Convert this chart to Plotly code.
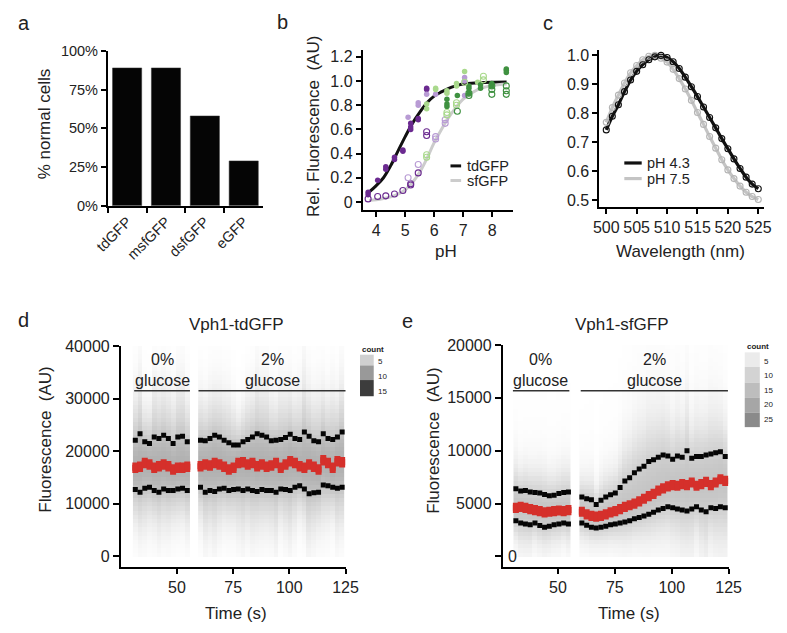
import math
import plotly.graph_objects as go

W, H = 787, 633
FONT = "Arial, Liberation Sans, Helvetica, sans-serif"
TXT = "#222222"


def px(x):
    return x / W


def py(y):
    return 1 - y / H


# ---------------- data: panel a ----------------
a_labels = ["tdGFP", "msfGFP", "dsfGFP", "eGFP"]
a_values = [89, 89, 58, 29]

# ---------------- data: panel b ----------------
# tdGFP (filled markers)
td_dp_ph = [3.72, 3.72, 4.05, 4.33, 4.33, 4.63, 4.63, 4.92, 4.92, 5.19, 5.19, 5.19, 5.45, 5.45, 5.74, 5.74]
td_dp_val = [0.08, 0.06, 0.18, 0.27, 0.29, 0.35, 0.37, 0.43, 0.42, 0.60, 0.65, 0.62, 0.69, 0.68, 0.94, 0.93]
td_lp_ph = [5.10, 5.45, 5.45, 5.74, 6.05, 7.05, 7.05, 7.05]
td_lp_val = [0.70, 0.82, 0.80, 0.89, 0.89, 1.03, 1.00, 0.88]
td_lg_ph = [5.74, 5.74, 6.05, 6.05, 6.44, 6.44, 6.77, 6.77, 7.05, 7.50]
td_lg_val = [0.81, 0.77, 0.93, 0.94, 0.92, 0.90, 0.96, 0.98, 1.08, 0.99]
td_dg_ph = [6.44, 6.44, 6.44, 6.80, 7.20, 7.20, 7.20, 7.60, 7.60, 7.99, 7.99, 8.49, 8.49, 8.49]
td_dg_val = [0.85, 0.81, 0.79, 0.88, 0.90, 0.94, 0.96, 0.94, 0.97, 0.96, 0.98, 1.09, 1.10, 1.07]
# sfGFP (open markers)
sf_dp_ph = [3.72, 4.05, 4.33, 4.63, 4.92, 5.19, 5.19, 5.45, 5.74, 5.74]
sf_dp_val = [0.025, 0.045, 0.05, 0.065, 0.095, 0.14, 0.15, 0.24, 0.55, 0.58]
sf_lp_ph = [5.10, 5.45, 6.05, 6.05, 6.38, 6.38]
sf_lp_val = [0.20, 0.31, 0.54, 0.52, 0.68, 0.65]
sf_lg_ph = [5.74, 5.74, 6.44, 6.44, 6.77, 6.77, 7.05, 7.70, 7.70]
sf_lg_val = [0.37, 0.39, 0.72, 0.74, 0.80, 0.82, 0.99, 1.04, 1.01]
sf_dg_ph = [6.80, 7.20, 7.20, 7.99, 7.99, 7.99, 8.49, 8.49, 8.49]
sf_dg_val = [0.75, 0.88, 0.90, 0.93, 0.96, 0.89, 0.96, 0.92, 0.89]
# fitted curves
fit_ph = [3.75, 4.0, 4.25, 4.5, 4.75, 5.0, 5.25, 5.5, 5.75, 6.0, 6.25, 6.5, 6.75, 7.0, 7.5, 8.0, 8.5]
fit_td = [0.08, 0.135, 0.2, 0.3, 0.42, 0.54, 0.65, 0.74, 0.82, 0.875, 0.91, 0.94, 0.96, 0.975, 0.985, 0.99, 0.992]
fit_sf = [0.012, 0.018, 0.028, 0.042, 0.065, 0.1, 0.16, 0.245, 0.36, 0.49, 0.6, 0.7, 0.78, 0.85, 0.93, 0.962, 0.975]

# ---------------- data: panel c ----------------
wl = list(range(500, 526))
em_ph43 = [0.743, 0.79, 0.83, 0.875, 0.915, 0.945, 0.968, 0.985, 0.995, 1.0, 0.993, 0.978, 0.955,
           0.925, 0.892, 0.858, 0.822, 0.786, 0.75, 0.713, 0.678, 0.643, 0.61, 0.58, 0.556, 0.54]
em_ph75 = [0.769, 0.82, 0.863, 0.905, 0.94, 0.965, 0.985, 0.997, 1.0, 0.99, 0.977, 0.952, 0.92,
           0.884, 0.845, 0.803, 0.762, 0.72, 0.68, 0.64, 0.605, 0.575, 0.549, 0.528, 0.513, 0.503]

# ---------------- data: panels d / e ----------------
t0 = [31.5, 33.6, 35.7, 37.8, 39.9, 42.0, 44.1, 46.2, 48.3, 50.4, 52.5, 54.6]
t2 = [60.5, 62.6, 64.7, 66.8, 68.9, 71.0, 73.1, 75.2, 77.3, 79.4, 81.5, 83.6, 85.7, 87.8, 89.9, 92.0,
      94.1, 96.2, 98.3, 100.4, 102.5, 104.6, 106.7, 108.8, 110.9, 113.0, 115.1, 117.2, 119.3, 121.4, 123.5]

d_up0 = [22100, 23334, 21790, 21482, 22717, 22408, 23026, 22408, 21482, 22717, 22840, 21790]
d_med0 = [16852, 17038, 17778, 17470, 16852, 17161, 17470, 17161, 16544, 16852, 16852, 17038]
d_lo0 = [12717, 12223, 12963, 13149, 12531, 12223, 12840, 12531, 12531, 12840, 12963, 12531]
d_up2 = [22100, 21976, 22408, 23026, 22717, 22100, 21605, 21173, 21173, 21790, 22223, 22717, 23334, 23026,
         22717, 21976, 22100, 22223, 22593, 23211, 22408, 22223, 23643, 22840, 21976, 21790, 23334, 22408,
         22223, 22717, 23643]
d_med2 = [17161, 17470, 17285, 17778, 17470, 17038, 16544, 16852, 17778, 17902, 17470, 17778, 17161, 17470,
          17038, 17285, 17778, 16852, 17470, 18087, 17778, 17161, 16852, 17470, 17038, 16544, 18272, 17778,
          16852, 18087, 17902]
d_lo2 = [13149, 12223, 12531, 12346, 12840, 12963, 12531, 12717, 12840, 12531, 12840, 12531, 12346, 12717,
         12531, 12531, 12223, 12840, 12717, 12531, 13149, 13457, 12840, 11914, 12099, 12223, 13581, 13457,
         13149, 12963, 13149]

e_up0 = [6400, 6200, 6250, 6100, 6050, 6000, 5850, 5750, 5800, 5950, 6050, 6100]
e_med0 = [4600, 4690, 4600, 4480, 4390, 4290, 4170, 4230, 4290, 4350, 4290, 4390]
e_lo0 = [3370, 3160, 3070, 3000, 3160, 2940, 2760, 2850, 3000, 3070, 3160, 3070]
e_up2 = [5613, 5459, 5367, 4907, 5306, 5613, 5827, 6011, 6533, 7146, 7453, 7913, 8281, 8526, 8986, 9140,
         9385, 9600, 9508, 9201, 9508, 9385, 9998, 9293, 9446, 9446, 9600, 9692, 9814, 9906, 9446]
e_med2 = [4232, 3987, 3834, 3772, 3834, 3987, 4171, 4294, 4478, 4693, 4846, 4999, 5214, 5459, 5705, 5919,
          6226, 6441, 6625, 6747, 6686, 6839, 6747, 6993, 6686, 6839, 7054, 6747, 6993, 7299, 7146]
e_lo2 = [3159, 2944, 2760, 2699, 2760, 2852, 3006, 3067, 3159, 3251, 3374, 3558, 3680, 3834, 3987, 4171,
         4386, 4540, 4693, 4601, 4478, 4386, 4294, 4478, 4693, 4386, 4232, 4601, 4540, 4693, 4601]

# colours
C_DP, C_LP, C_LG, C_DG = "#6b2a90", "#b89bd4", "#a9d98c", "#3f9140"
C_RED = "#d5302b"

fig = go.Figure()

# ---------------- panel a ----------------
fig.add_trace(go.Bar(x=a_labels, y=a_values, marker=dict(color="#050505", line=dict(color="#333", width=0.5)),
                     width=0.75, xaxis="x", yaxis="y", showlegend=False))

# ---------------- panel b ----------------
fig.add_trace(go.Scatter(x=fit_ph, y=fit_td, mode="lines", line=dict(color="#111", width=3, shape="spline"),
                         xaxis="x2", yaxis="y2", showlegend=False))
fig.add_trace(go.Scatter(x=fit_ph, y=fit_sf, mode="lines", line=dict(color="#cccccc", width=3, shape="spline"),
                         xaxis="x2", yaxis="y2", showlegend=False))
for xs, ys, col in [(td_dp_ph, td_dp_val, C_DP), (td_lp_ph, td_lp_val, C_LP),
                    (td_lg_ph, td_lg_val, C_LG), (td_dg_ph, td_dg_val, C_DG)]:
    fig.add_trace(go.Scatter(x=xs, y=ys, mode="markers", marker=dict(color=col, size=5.5, line=dict(width=0)),
                             xaxis="x2", yaxis="y2", showlegend=False))
for xs, ys, col in [(sf_dp_ph, sf_dp_val, C_DP), (sf_lp_ph, sf_lp_val, C_LP),
                    (sf_lg_ph, sf_lg_val, C_LG), (sf_dg_ph, sf_dg_val, C_DG)]:
    fig.add_trace(go.Scatter(x=xs, y=ys, mode="markers",
                             marker=dict(symbol="circle-open", color=col, size=6, line=dict(width=1.1, color=col)),
                             xaxis="x2", yaxis="y2", showlegend=False))

# ---------------- panel c ----------------
fig.add_trace(go.Scatter(x=wl, y=em_ph75, mode="lines", line=dict(color="#c4c4c4", width=3.2, shape="spline"),
                         xaxis="x3", yaxis="y3", showlegend=False))
fig.add_trace(go.Scatter(x=wl, y=em_ph43, mode="lines", line=dict(color="#111", width=3.2, shape="spline"),
                         xaxis="x3", yaxis="y3", showlegend=False))
fig.add_trace(go.Scatter(x=wl, y=em_ph75, mode="markers",
                         marker=dict(symbol="circle-open", size=6, color="#b5b5b5", line=dict(width=1.1, color="#b5b5b5")),
                         xaxis="x3", yaxis="y3", showlegend=False))
fig.add_trace(go.Scatter(x=wl, y=em_ph43, mode="markers",
                         marker=dict(symbol="circle-open", size=6, color="#111", line=dict(width=1.1, color="#111")),
                         xaxis="x3", yaxis="y3", showlegend=False))


# ---------------- panels d / e: density background derived from the quantile data ----------------
def density(med, up, lo, ybins, peak, halo, hw):
    z = []
    for yv in ybins:
        row = []
        for m, u, l in zip(med, up, lo):
            s = (u - m) / 0.674 if yv >= m else (m - l) / 0.674
            row.append(peak * math.exp(-0.5 * ((yv - m) / s) ** 2) + halo * math.exp(-0.5 * ((yv - m) / (hw * s)) ** 2))
        z.append(row)
    return z


d_ybins = [400 + 800 * i for i in range(50)]
e_ybins = [200 + 400 * i for i in range(50)]
d_cs = [[0, "#ffffff"], [5 / 17, "#d3d3d3"], [10 / 17, "#999999"], [15 / 17, "#3c3c3c"], [1, "#2a2a2a"]]
e_cs = [[0, "#ffffff"], [5 / 27, "#ebebeb"], [10 / 27, "#d3d3d3"], [15 / 27, "#bdbdbd"], [20 / 27, "#a6a6a6"],
        [25 / 27, "#8a8a8a"], [1, "#7a7a7a"]]

for tt, med, up, lo in [(t0, d_med0, d_up0, d_lo0), (t2, d_med2, d_up2, d_lo2)]:
    fig.add_trace(go.Heatmap(x=tt, y=d_ybins, z=density(med, up, lo, d_ybins, 7.5, 0.5, 1.6), colorscale=d_cs,
                             zmin=0, zmax=17, showscale=False, xaxis="x4", yaxis="y4", hoverinfo="skip"))
for tt, med, up, lo in [(t0, e_med0, e_up0, e_lo0), (t2, e_med2, e_up2, e_lo2)]:
    fig.add_trace(go.Heatmap(x=tt, y=e_ybins, z=density(med, up, lo, e_ybins, 12.0, 1.3, 2.2), colorscale=e_cs,
                             zmin=0, zmax=27, showscale=False, xaxis="x5", yaxis="y5", hoverinfo="skip"))

for axn, half, sets in [("4", 1000, [(t0, d_up0, d_med0, d_lo0), (t2, d_up2, d_med2, d_lo2)]),
                        ("5", 480, [(t0, e_up0, e_med0, e_lo0), (t2, e_up2, e_med2, e_lo2)])]:
    for tt, up, med, lo in sets:
        for ys in (up, lo):
            fig.add_trace(go.Scatter(x=tt, y=ys, mode="markers",
                                     marker=dict(symbol="square", size=5, color="#050505", line=dict(width=0)),
                                     xaxis="x" + axn, yaxis="y" + axn, showlegend=False))
        fig.add_trace(go.Scatter(x=tt, y=med, mode="markers",
                                 marker=dict(symbol="square", size=6, color=C_RED, line=dict(width=0)),
                                 error_y=dict(type="constant", value=half, color=C_RED, thickness=6, width=0),
                                 xaxis="x" + axn, yaxis="y" + axn, showlegend=False))


# ---------------- axes ----------------
def ax(**kw):
    d = dict(showline=True, linecolor="black", linewidth=1.6, ticks="outside", ticklen=5, tickwidth=1.5,
             tickcolor="black", showgrid=False, zeroline=False,
             tickfont=dict(family=FONT, size=16, color=TXT), fixedrange=True)
    d.update(kw)
    return d


layout = dict(
    width=W, height=H, margin=dict(l=0, r=0, t=0, b=0), paper_bgcolor="white", plot_bgcolor="rgba(0,0,0,0)",
    showlegend=False, font=dict(family=FONT, color=TXT),
    xaxis=ax(domain=[px(97), px(258)], anchor="y", range=[-0.5, 3.5], tickson="boundaries", tickangle=-45,
             tickfont=dict(family=FONT, size=14.5, color=TXT)),
    yaxis=ax(domain=[py(203), py(44)], anchor="x", range=[0, 100], tickvals=[0, 25, 50, 75, 100],
             ticktext=["0%", "25%", "50%", "75%", "100%"], tickfont=dict(family=FONT, size=14.5, color=TXT)),
    xaxis2=ax(domain=[px(361), px(517)], anchor="y2", range=[3.53, 8.73], tickvals=[4, 5, 6, 7, 8]),
    yaxis2=ax(domain=[py(207), py(42.7)], anchor="x2", range=[-0.065, 1.26],
              tickvals=[0, 0.2, 0.4, 0.6, 0.8, 1.0, 1.2], ticktext=["0", "0.2", "0.4", "0.6", "0.8", "1.0", "1.2"]),
    xaxis3=ax(domain=[px(606), px(776.7)], anchor="y3", range=[498.84, 525.95], tickvals=[500, 505, 510, 515, 520, 525]),
    yaxis3=ax(domain=[py(204), py(43)], anchor="x3", range=[0.4775, 1.019],
              tickvals=[0.5, 0.6, 0.7, 0.8, 0.9, 1.0], ticktext=["0.5", "0.6", "0.7", "0.8", "0.9", "1.0"]),
    xaxis4=ax(domain=[px(110.5), px(344)], anchor="y4", range=[25, 125.3], tickvals=[50, 75, 100, 125]),
    yaxis4=ax(domain=[py(574), py(346.7)], anchor="x4", range=[-2093, 40000],
              tickvals=[0, 10000, 20000, 30000, 40000], ticktext=["0", "10000", "20000", "30000", "40000"], ticklen=6),
    xaxis5=ax(domain=[px(506), px(740)], anchor="y5", range=[25.68, 125], tickvals=[50, 75, 100, 125]),
    yaxis5=ax(domain=[py(574), py(345.7)], anchor="x5", range=[-1041, 20000],
              tickvals=[0, 5000, 10000, 15000, 20000], ticktext=["", "5000", "10000", "15000", "20000"], ticklen=6),
)

ann = []
shapes = []


def text(x, y, s, size=17, angle=0, xref="paper", yref="paper", xanchor="center", yanchor="middle", bold=False,
         color=TXT):
    if bold:
        s = "<b>" + s + "</b>"
    ann.append(dict(x=x, y=y, xref=xref, yref=yref, text=s, showarrow=False, textangle=angle,
                    xanchor=xanchor, yanchor=yanchor, font=dict(family=FONT, size=size, color=color)))


# panel letters
for lt, x, y in [("a", 10, 15), ("b", 278, 14), ("c", 553, 15), ("d", 10, 320), ("e", 407, 321)]:
    text(px(x), py(y), lt, size=20)

# axis titles
text(px(31.7), py(118.7), "% normal cells", angle=-90)
text(px(310), py(121.7), "Rel. Fluorescence  (AU)", angle=-90)
text(px(447), py(250), "pH")
text(px(690), py(250), "Wavelength (nm)")
text(px(33), py(443), "Fluorescence  (AU)", angle=-90)
text(px(230), py(621.7), "Time (s)")
text(px(435), py(444), "Fluorescence  (AU)", angle=-90)
text(px(636.7), py(621.7), "Time (s)")
text(px(230), py(325), "Vph1-tdGFP", size=17)
text(px(630), py(325), "Vph1-sfGFP", size=17)

# legend of panel b
for lbl, col, y in [("tdGFP", "#111", 162), ("sfGFP", "#cccccc", 177)]:
    shapes.append(dict(type="line", xref="paper", yref="paper", x0=px(452), x1=px(463), y0=py(y), y1=py(y),
                       line=dict(color=col, width=3)))
    text(px(467), py(y), lbl, size=14.5, xanchor="left")
# legend of panel c
for lbl, col, y in [("pH 4.3", "#111", 159), ("pH 7.5", "#c4c4c4", 175)]:
    shapes.append(dict(type="line", xref="paper", yref="paper", x0=px(632), x1=px(650), y0=py(y), y1=py(y),
                       line=dict(color=col, width=3.2)))
    text(px(653), py(y), lbl, size=14.5, xanchor="left")

# glucose annotations
for xa, ya, segs, ylin, ytxt in [("x4", "y4", [(31, 55.8, 43.4, "0%"), (59.6, 125, 92.3, "2%")], 31500, 35500),
                                 ("x5", "y5", [(30.2, 55.0, 42.3, "0%"), (60.0, 124.7, 92.5, "2%")], 15668, 17670)]:
    for x0, x1, xc, lab in segs:
        shapes.append(dict(type="line", xref=xa, yref=ya, x0=x0, x1=x1, y0=ylin, y1=ylin,
                           line=dict(color="#333", width=1.6)))
        text(xc, ytxt, lab + "<br>glucose", size=16, xref=xa, yref=ya)

# lone "0" label of panel e
text(29.9, 0, "0", size=16, xref="x5", yref="y5")

# count legends
for x0, x1, blocks, labels, ytop in [
        (358.3, 372.5, [(355.7, 366.7, "#d0d0d0"), (366.7, 381.7, "#999999"), (381.7, 398.3, "#3c3c3c")],
         [("5", 363), ("10", 378), ("15", 393)], 350),
        (756.7, 772.3, [(353.3, 368.3, "#ebebeb"), (368.3, 384.3, "#d3d3d3"), (384.3, 400, "#bdbdbd"),
                        (400, 415, "#a6a6a6"), (415, 430, "#8a8a8a")],
         [("5", 362.3), ("10", 377.3), ("15", 392.3), ("20", 407), ("25", 422)], 347.7)]:
    for y0, y1, col in blocks:
        shapes.append(dict(type="rect", xref="paper", yref="paper", x0=px(x0), x1=px(x1), y0=py(y1), y1=py(y0),
                           fillcolor=col, line=dict(width=0)))
    text(px(x0), py(ytop), "count", size=8, bold=True, xanchor="left")
    for lab, yy in labels:
        text(px(x1 + 2), py(yy), lab, size=8, xanchor="left")

layout["annotations"] = ann
layout["shapes"] = shapes
fig.update_layout(**layout)
fig.write_html("out.html", config={"displayModeBar": False},
               post_script="document.body.style.margin='0px';document.body.style.overflow='hidden';")
